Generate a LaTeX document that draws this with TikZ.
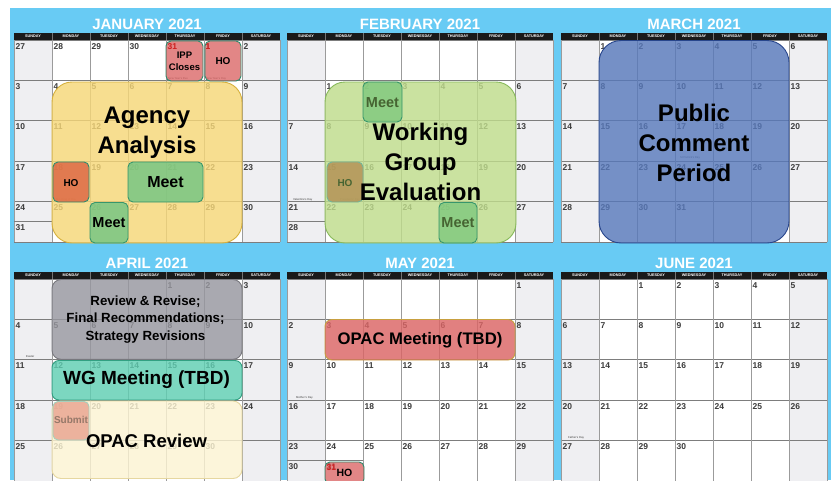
\documentclass[tikz,border=0pt]{standalone}
\usepackage{fontspec}
\setmainfont{Liberation Sans}
\definecolor{bgblue}{RGB}{104,203,244}
\definecolor{hdr}{RGB}{26,26,26}
\definecolor{wkend}{RGB}{239,239,242}
\definecolor{vlinec}{RGB}{155,155,155}
\definecolor{hlinec}{RGB}{125,125,125}
\definecolor{numgray}{RGB}{60,60,60}
\definecolor{yelfill}{RGB}{246,215,120}
\definecolor{yeledge}{RGB}{214,176,60}
\definecolor{redfill}{RGB}{219,101,101}
\definecolor{tealedge}{RGB}{48,140,110}
\definecolor{hofill}{RGB}{220,95,62}
\definecolor{meetfill}{RGB}{108,196,130}
\definecolor{meetedge}{RGB}{55,150,108}
\definecolor{febmeet}{RGB}{125,200,125}
\definecolor{febho}{RGB}{178,140,80}
\definecolor{grnfill}{RGB}{191,220,140}
\definecolor{grnedge}{RGB}{135,185,90}
\definecolor{bluefill}{RGB}{87,120,186}
\definecolor{blueedge}{RGB}{40,70,140}
\definecolor{grayfill}{RGB}{151,151,159}
\definecolor{grayedge}{RGB}{120,120,126}
\definecolor{tealfill}{RGB}{96,207,179}
\definecolor{tealedgeb}{RGB}{50,160,130}
\definecolor{creamfill}{RGB}{252,244,211}
\definecolor{creamedge}{RGB}{230,215,160}
\definecolor{salmon}{RGB}{232,160,140}
\definecolor{olivetext}{RGB}{70,100,50}
\definecolor{redtext}{RGB}{205,30,30}
\definecolor{goldedge}{RGB}{200,160,64}
\definecolor{submittext}{RGB}{150,120,105}
\tikzset{
  daynum/.style={anchor=north west, inner sep=0pt, font=\fontsize{8.5}{8.5}\selectfont\bfseries, text=numgray},
  dayname/.style={inner sep=0pt, font=\fontsize{3.8}{3.8}\selectfont\bfseries, text=white},
  titletext/.style={inner sep=0pt, font=\fontsize{15}{15}\selectfont\bfseries, text=white},
  holiday/.style={anchor=west, inner sep=0pt, font=\fontsize{2.8}{2.8}\selectfont, text=black!75},
  bigtext/.style={align=center, inner sep=0pt, font=\fontsize{24}{30}\selectfont\bfseries},
  boxtext/.style={align=center, inner sep=0pt, font=\fontsize{10}{12}\selectfont\bfseries},
  hlineg/.style={draw=hlinec, line width=0.8pt},
  vlineg/.style={draw=vlinec, line width=0.8pt},
  hdrsep/.style={draw=black!55, line width=0.5pt},
  ovl/.style={fill opacity=0.82, line width=0.9pt},
  sbox/.style={fill opacity=0.78, line width=0.9pt, rounded corners=5pt},
}
\newcommand\calmonth[6]{% name, x0, y0, title, offset, ndays
  \node[titletext] (title-#1) at (#2+133,#3-9) {#4};
  \fill[white] (#2,#3+7) rectangle (#2+266,#3+209);
  \fill[wkend] (#2,#3+7) rectangle (#2+38,#3+209);
  \fill[wkend] (#2+228,#3+7) rectangle (#2+266,#3+209);
  \foreach \kk in {0,...,5}{\draw[hlineg] (#2,#3+7+40.4*\kk) -- (#2+266,#3+7+40.4*\kk);}
  \foreach \kk in {0,...,7}{\draw[vlineg] (#2+38*\kk,#3+7) -- (#2+38*\kk,#3+209);}
  \fill[hdr] (#2-0.4,#3) rectangle (#2+266.4,#3+7);
  \foreach \kk in {1,...,6}{\draw[hdrsep] (#2+38*\kk,#3) -- (#2+38*\kk,#3+7);}
  \foreach \nm [count=\kk from 0] in {SUNDAY,MONDAY,TUESDAY,WEDNESDAY,THURSDAY,FRIDAY,SATURDAY}{%
    \node[dayname] (dn-#1-\kk) at (#2+19+38*\kk,#3+3.6) {\nm};}
  \foreach \dd in {1,...,#6}{%
    \pgfmathtruncatemacro\pp{#5+\dd-1}%
    \pgfmathtruncatemacro\cc{mod(\pp,7)}%
    \pgfmathtruncatemacro\rr{min(floor(\pp/7),4)}%
    \pgfmathtruncatemacro\low{\pp>34 ? 1 : 0}%
    \node[daynum] (n-#1-\dd) at (#2+38*\cc+1.5, #3+7+40.4*\rr+3+20.2*\low) {\dd};
  }
}
\begin{document}
\begin{tikzpicture}[x=1pt,y=-1pt]
\useasboundingbox (0,0) rectangle (831,480);
\fill[white] (0,0) rectangle (831,480);
\fill[bgblue] (10,8) rectangle (831,480);

% ---- grids
\calmonth{jan}{14}{33}{JANUARY 2021}{5}{31}
\calmonth{feb}{287}{33}{FEBRUARY 2021}{8}{28}
\calmonth{mar}{561}{33}{MARCH 2021}{1}{31}
\calmonth{apr}{14}{272}{APRIL 2021}{4}{30}
\calmonth{may}{287}{272}{MAY 2021}{6}{31}
\calmonth{jun}{561}{272}{JUNE 2021}{2}{30}

% split cells
\draw[hlineg] (14,221.8) -- (52,221.8);
\draw[hlineg] (287,221.8) -- (325,221.8);
\draw[hlineg] (287,460.8) -- (363,460.8);

% previous month days in January
\foreach \dd [count=\kk from 0] in {27,28,29,30}{\node[daynum] (prev-\dd) at (14+38*\kk+1.5,43) {\dd};}

% holidays
\node[holiday] (h-nye) at (168,79) {New Year's Eve};
\node[holiday] (h-nyd) at (206,79) {New Year's Day};
\node[holiday] (h-mlk) at (56,199.5) {M.L.King Jr Day};
\node[holiday] (h-val) at (293,199.5) {Valentine's Day};
\node[holiday] (h-pre) at (340,199.5) {Presidents' Day};
\node[holiday] (h-stp) at (680,158) {St Patrick's Day};
\node[holiday] (h-eas) at (26,357) {Easter};
\node[holiday] (h-mom) at (296,398) {Mother's Day};
\node[holiday] (h-dad) at (568,438) {Father's Day};

% ---- January overlays
\draw[ovl, fill=yelfill, draw=yeledge, rounded corners=20pt] (52,82) rectangle (242,243);
\draw[sbox, fill=redfill, draw=tealedge] (166,41) rectangle (203,81);
\draw[sbox, fill=redfill, draw=tealedge] (205,41) rectangle (241,81);
\draw[sbox, fill=hofill, draw=tealedge] (53,162) rectangle (89,202);
\draw[sbox, fill=meetfill, draw=meetedge] (128,162) rectangle (203,202);
\draw[sbox, fill=meetfill, draw=meetedge] (90,202.5) rectangle (128,243);
\node[daynum, text=redtext] (r-dec31) at (167.5,43) {31};
\node[daynum, text=redtext] (r-jan1) at (205.5,43) {1};
\node[bigtext] (agency) at (147,133) {Agency\\Analysis};
\node[boxtext, font=\fontsize{9.5}{12}\selectfont\bfseries] (ipp) at (184.5,61) {IPP\\Closes};
\node[boxtext] (ho1) at (223,61) {HO};
\node[boxtext] (ho18) at (71,183) {HO};
\node[boxtext, font=\fontsize{16}{16}\selectfont\bfseries] (meet1) at (165.5,182) {Meet};
\node[boxtext, font=\fontsize{14.5}{16}\selectfont\bfseries] (meet2) at (109,222.5) {Meet};

% ---- February overlays
\draw[ovl, fill=grnfill, draw=grnedge, rounded corners=20pt] (325,82) rectangle (516,243);
\draw[sbox, fill=febmeet, draw=meetedge] (363,82) rectangle (402,122);
\draw[sbox, fill=febho, draw=meetedge!70] (327,162) rectangle (363,202);
\draw[sbox, fill=febmeet, draw=meetedge] (439,202.5) rectangle (477,243);
\node[boxtext, font=\fontsize{14.5}{16}\selectfont\bfseries, text=olivetext] (fmeet1) at (382.5,102.5) {Meet};
\node[boxtext, text=olivetext] (fho) at (345,183) {HO};
\node[boxtext, font=\fontsize{14.5}{16}\selectfont\bfseries, text=olivetext] (fmeet2) at (458,223) {Meet};
\node[bigtext] (wge) at (420.5,162) {Working\\Group\\Evaluation};

% ---- March overlay
\draw[ovl, fill=bluefill, draw=blueedge, rounded corners=22pt] (599,40.5) rectangle (789,243);
\node[bigtext] (pcp) at (694,142.5) {Public\\Comment\\Period};

% ---- April overlays
\draw[ovl, fill=grayfill, draw=grayedge, rounded corners=9pt] (52,279.5) rectangle (242,359.3);
\draw[ovl, fill=tealfill, draw=tealedgeb, rounded corners=7pt] (52,360.5) rectangle (242,400);
\draw[ovl, fill=creamfill, draw=creamedge, rounded corners=9pt] (52,401) rectangle (242,478.5);
\draw[sbox, fill=salmon, draw=meetedge!45] (53,401.5) rectangle (89,440);
\node[align=center, inner sep=0pt, font=\fontsize{13.3}{17.5}\selectfont\bfseries] (review) at (145.5,319.5) {Review \& Revise;\\Final Recommendations;\\Strategy Revisions};
\node[inner sep=0pt, font=\fontsize{19}{19}\selectfont\bfseries] (wgm) at (146.5,380) {WG Meeting (TBD)};
\node[inner sep=0pt, font=\fontsize{18.5}{19}\selectfont\bfseries] (opacr) at (146.5,441) {OPAC Review};
\node[boxtext, text=submittext] (submit) at (71,420) {Submit};

% ---- May overlays
\draw[ovl, fill=redfill, draw=goldedge, rounded corners=7pt] (325,319.5) rectangle (515,360);
\draw[sbox, fill=redfill, draw=tealedge] (325,462) rectangle (364,484);
\node[inner sep=0pt, font=\fontsize{16.7}{17}\selectfont\bfseries] (opacm) at (420,340) {OPAC Meeting (TBD)};
\node[daynum, text=redtext] (r-may31) at (326.5,464) {31};
\node[boxtext, font=\fontsize{10.5}{12}\selectfont\bfseries] (homay) at (344.5,472.5) {HO};
\end{tikzpicture}
\end{document}
